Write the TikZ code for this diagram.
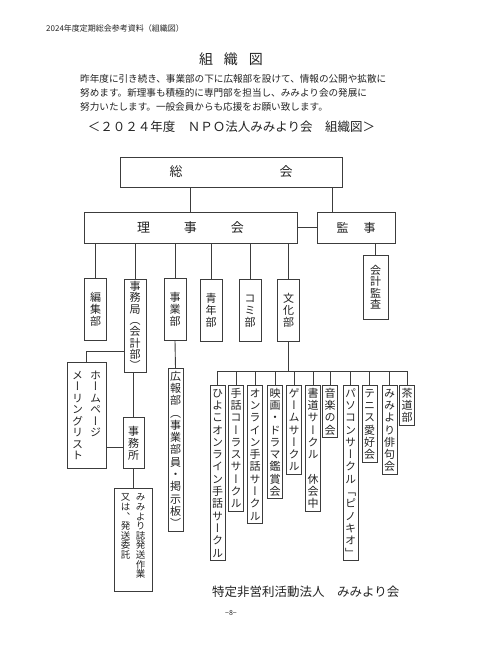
\documentclass[tikz,border=0pt]{standalone}
\usepackage{fontspec}
\usepackage{tikz}
\setmainfont{Noto Sans CJK JP}
\newfontfamily\vjp[RawFeature=+vert]{Noto Sans CJK JP}
\definecolor{orgline}{RGB}{60,60,60}
\definecolor{orgtext}{RGB}{35,35,35}
% vertical text: one character per line
\def\tateloop#1{\ifx\relax#1\else\hbox to 1em{\vrule height .88em depth .12em width 0pt\hss#1\hss}\expandafter\tateloop\fi}
\newcommand\tate[2][12.3pt]{\vtop{\baselineskip=#1\lineskiplimit=-\maxdimen\edef\tatearg{#2}\expandafter\tateloop\tatearg\relax}}

\begin{document}
\begin{tikzpicture}[x=1pt,y=-1pt,
  box/.style={draw=orgline,line width=0.9pt,inner sep=0pt,text=orgtext},
  dept/.style={box,anchor=north,minimum width=22pt,minimum height=62pt,font=\vjp\fontsize{11}{11}\selectfont},
  tatebox/.style={box,anchor=north,inner xsep=2pt,inner ysep=2pt,font=\vjp\fontsize{11}{11}\selectfont},
  link/.style={draw=orgline,line width=0.9pt},
  txt/.style={inner sep=0pt,text=orgtext}]
\useasboundingbox[fill=white] (0,0) rectangle (480,658);

% heading and introduction
\node[txt,anchor=west,font=\fontsize{8}{8}\selectfont] (head) at (46,28) {2024年度定期総会参考資料（組織図）};
\node[txt,font=\fontsize{14}{14}\selectfont] (title) at (231,59) {組\hspace{11pt}織\hspace{11pt}図};
\node[txt,anchor=west,font=\fontsize{9.6}{9.6}\selectfont] (intro1) at (80,79) {昨年度に引き続き、事業部の下に広報部を設けて、情報の公開や拡散に};
\node[txt,anchor=west,font=\fontsize{9.6}{9.6}\selectfont] (intro2) at (80,93) {努めます。新理事も積極的に専門部を担当し、みみより会の発展に};
\node[txt,anchor=west,font=\fontsize{9.6}{9.6}\selectfont] (intro3) at (80,107) {努力いたします。一般会員からも応援をお願い致します。};
\node[txt,font=\fontsize{12.5}{12.5}\selectfont] (subtitle) at (231.5,127) {＜２０２４年度　ＮＰＯ法人みみより会　組織図＞};

% top levels
\node[box,minimum width=222pt,minimum height=30pt,font=\fontsize{13}{13}\selectfont] (sokai) at (231,172) {総\hspace{97pt}会};
\node[box,minimum width=213pt,minimum height=31pt,font=\fontsize{13}{13}\selectfont] (riji) at (190.5,227.5) {理\hspace{34pt}事\hspace{34pt}会};
\node[box,minimum width=78pt,minimum height=31pt,font=\fontsize{12}{12}\selectfont] (kanji) at (356,227.5) {監\hspace{15pt}事};
\node[dept,minimum width=25pt,minimum height=64pt] (kaikei) at (375.5,255) {\tate[11.5pt]{会計監査}};

\draw[link] (riji.north) -- (riji.north |- sokai.south);
\draw[link] ([xshift=-24pt]kanji.north) -- ([xshift=-24pt]kanji.north |- sokai.south);
\draw[link] (riji.east) -- (kanji.west);
\draw[link] (kaikei.north) -- (kaikei.north |- kanji.south);

% departments
\node[dept] (henshu) at (95.5,278) {\tate[12pt]{編集部}};
\node[dept,minimum height=93pt] (jimukyoku) at (135,279) {\tate[11.3pt]{事務局（会計部）}};
\node[dept] (jigyo) at (175,278) {\tate[12pt]{事業部}};
\node[dept] (seinen) at (211,279) {\tate[12pt]{青年部}};
\node[dept] (komi) at (250,279) {\tate[12pt]{コミ部}};
\node[dept] (bunka) at (288.5,279) {\tate[12pt]{文化部}};
\foreach \d in {henshu,jimukyoku,jigyo,seinen,komi,bunka}
  \draw[link] (\d.north) -- (\d.north |- riji.south);

% office side
\node[box,anchor=north,minimum width=39pt,minimum height=106pt,font=\vjp\fontsize{11}{11}\selectfont] (hp) at (86.5,362)
  {\tate[11.5pt]{メーリングリスト}\hspace{7pt}\tate[11.5pt]{ホームページ}};
\node[dept,minimum width=21pt,minimum height=51pt] (jimusho) at (133.5,417) {\tate[12pt]{事務所}};
\node[box,anchor=north,minimum width=38pt,inner ysep=4pt,font=\vjp\fontsize{9.5}{9.5}\selectfont] (hasso) at (133,488)
  {\tate[9.6pt]{又は、発送委託}\hspace{5.5pt}\tate[9.6pt]{みみより誌発送作業}\rule[-87pt]{0pt}{0pt}};
\draw[link] ([yshift=21pt]jimukyoku.south west) -| (hp.north);
\draw[link] (jimusho.north) -- (jimusho.north |- jimukyoku.south);
\draw[link] ([yshift=-4.5pt]jimusho.west) -- ([yshift=-4.5pt]jimusho.west -| hp.east);
\draw[link] (hasso.north) -- (hasso.north |- jimusho.south);

% public relations
\node[tatebox] (koho) at (175.5,368) {\tate{広報部（事業部員・掲示板）}};
\draw[link] (jigyo.south) -- (koho.north);

% circles under culture
\coordinate (bus) at (288.5,371);
\draw[link] (bunka.south) -- (bus);
\foreach \x/\t [count=\i] in {217.5/ひよこオンライン手話サークル,236/手話コーラスサークル,255/オンライン手話サークル,275/映画・ドラマ鑑賞会,294/ゲームサークル,313/書道サークル　休会中,330/音楽の会,350.5/パソコンサークル「ピノキオ」,369.5/テニス愛好会,389.5/みみより俳句会,407/茶道部}{
  \node[tatebox] (c\i) at (\x,385) {\tate{\t}};
  \draw[link] (c\i.north) -- (c\i.north |- bus);
}
\draw[link] (c1.north |- bus) -- (c11.north |- bus);

% footer
\node[txt,anchor=west,font=\fontsize{12.5}{12.5}\selectfont] (org) at (212,592) {特定非営利活動法人　みみより会};
\node[txt,font=\fontsize{7}{7}\selectfont] (page) at (231,613) {−8−};
\end{tikzpicture}
\end{document}
